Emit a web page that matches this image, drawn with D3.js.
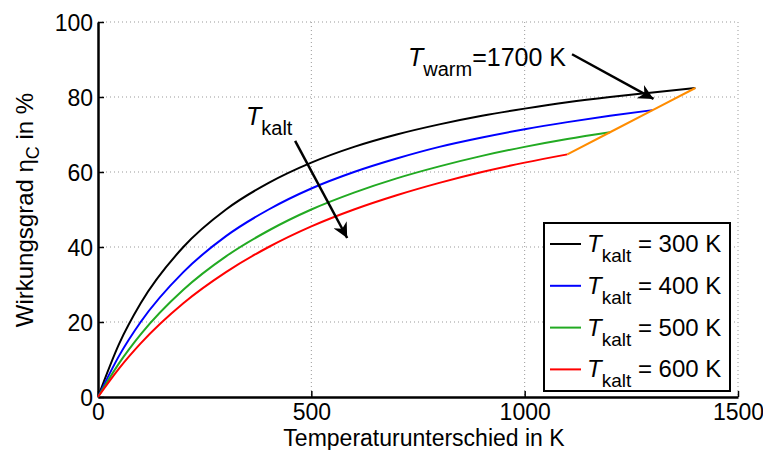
<!DOCTYPE html>
<html>
<head>
<meta charset="utf-8">
<script src="https://cdn.jsdelivr.net/npm/d3@7"></script>
<style>
  body { margin: 0; background: #fff; }
  svg { font-family: "Liberation Sans", Arial, sans-serif; }
</style>
</head>
<body>
<div id="chart"></div>
<script>
// values (Temperaturunterschied in K / Wirkungsgrad in %)
var dT = [0, 50, 100, 200, 300, 400, 500, 600, 700, 800, 900, 1000, 1100, 1200, 1300, 1400];
var eta300 = [0, 14.3, 25, 40, 50, 57.1, 62.5, 66.7, 70, 72.7, 75, 76.9, 78.6, 80, 81.2, 82.4];
var eta400 = [0, 11.1, 20, 33.3, 42.9, 50, 55.6, 60, 63.6, 66.7, 69.2, 71.4, 73.3, 75, 76.5];
var eta500 = [0, 9.1, 16.7, 28.6, 37.5, 44.4, 50, 54.5, 58.3, 61.5, 64.3, 66.7, 68.8, 70.6];
var eta600 = [0, 7.7, 14.3, 25, 33.3, 40, 45.5, 50, 53.8, 57.1, 60, 62.5, 64.7];
var warmX = [1100, 1200, 1300, 1400];
var warmY = [64.7, 70.6, 76.5, 82.4];
var kaltLabels = ["300 K", "400 K", "500 K", "600 K"];
var colors = ["#000000", "#0000ff", "#22aa22", "#ff0000"];
var xTicks = [0, 500, 1000, 1500];
var yTicks = [0, 20, 40, 60, 80, 100];

var svgWidth = 763, svgHeight = 450;
var margin = { top: 22, right: 25, bottom: 53, left: 98 };
var width = svgWidth - margin.left - margin.right;
var height = svgHeight - margin.top - margin.bottom;

var svg = d3.select("#chart").append("svg")
    .attr("width", svgWidth)
    .attr("height", svgHeight);

var chartGroup = svg.append("g")
    .attr("transform", `translate(${margin.left}, ${margin.top})`);

var x = d3.scaleLinear().domain([0, 1500]).range([0, width]);
var y = d3.scaleLinear().domain([0, 100]).range([height, 0]);

// grid
chartGroup.selectAll(".gx").data(xTicks.slice(1)).enter().append("line")
    .attr("x1", d => x(d)).attr("x2", d => x(d))
    .attr("y1", 0).attr("y2", height)
    .attr("stroke", "#999").attr("stroke-width", 1).attr("stroke-dasharray", "1,3");
chartGroup.selectAll(".gy").data(yTicks.slice(1)).enter().append("line")
    .attr("x1", 0).attr("x2", width)
    .attr("y1", d => y(d)).attr("y2", d => y(d))
    .attr("stroke", "#999").attr("stroke-width", 1).attr("stroke-dasharray", "1,3");

// axes
var bottomAxis = d3.axisBottom(x).tickValues(xTicks).tickFormat(d3.format("d"))
    .tickSizeInner(-6).tickSizeOuter(0).tickPadding(12);
var leftAxis = d3.axisLeft(y).tickValues(yTicks).tickFormat(d3.format("d"))
    .tickSizeInner(-6).tickSizeOuter(0).tickPadding(5);

var gx = chartGroup.append("g")
    .attr("transform", `translate(0, ${height})`)
    .call(bottomAxis);
var gy = chartGroup.append("g").call(leftAxis);

[gx, gy].forEach(function (g) {
    g.select(".domain").attr("stroke", "#000").attr("stroke-width", 2.5);
    g.selectAll(".tick line").attr("stroke", "#000").attr("stroke-width", 1.5);
    g.selectAll(".tick text").attr("font-size", 23).attr("fill", "#000")
        .attr("font-family", "Liberation Sans, Arial, sans-serif");
});
gx.selectAll(".tick text").attr("dy", "0.48em");
gy.selectAll(".tick text").attr("dy", "0.36em");

// curves
var series = [eta300, eta400, eta500, eta600];
var line = d3.line()
    .x(d => x(d[0]))
    .y(d => y(d[1]))
    .curve(d3.curveMonotoneX);

series.forEach(function (s, i) {
    var pts = s.map((v, j) => [dT[j], v]);
    chartGroup.append("path")
        .attr("d", line(pts))
        .attr("fill", "none")
        .attr("stroke", colors[i])
        .attr("stroke-width", 2);
});

chartGroup.append("path")
    .attr("d", d3.line().x(d => x(d[0])).y(d => y(d[1]))(warmX.map((v, j) => [v, warmY[j]])))
    .attr("fill", "none")
    .attr("stroke", "#ff8c00")
    .attr("stroke-width", 2);

// arrows
svg.append("defs").append("marker")
    .attr("id", "head")
    .attr("viewBox", "0 0 10 10")
    .attr("refX", 10).attr("refY", 5)
    .attr("markerWidth", 7).attr("markerHeight", 6)
    .attr("markerUnits", "strokeWidth")
    .attr("orient", "auto")
    .append("path").attr("d", "M0,0 L10,5 L0,10 L3,5 Z").attr("fill", "#000");

function arrow(x1, y1, x2, y2) {
    chartGroup.append("line")
        .attr("x1", x(x1)).attr("y1", y(y1))
        .attr("x2", x(x2)).attr("y2", y(y2))
        .attr("stroke", "#000").attr("stroke-width", 2.5)
        .attr("marker-end", "url(#head)");
}
arrow(1111, 91.4, 1302, 79.5);
arrow(462, 68.3, 584, 42.4);

// annotations
function tLabel(g, px, py, sub, rest, size, subSize) {
    var t = g.append("text").attr("x", px).attr("y", py)
        .attr("font-size", size).attr("fill", "#000");
    t.append("tspan").attr("font-style", "italic").text("T");
    t.append("tspan").attr("font-size", subSize).attr("dy", 10).text(sub);
    if (rest) t.append("tspan").attr("dy", -10).text(rest);
    return t;
}
tLabel(svg, 408, 66, "warm", "=1700 K", 25, 20);
tLabel(svg, 246, 125, "kalt", null, 25, 20);

// legend
var legend = svg.append("g");
legend.append("rect")
    .attr("x", 544).attr("y", 223).attr("width", 186).attr("height", 168)
    .attr("fill", "#fff").attr("stroke", "#000").attr("stroke-width", 2);
kaltLabels.forEach(function (lab, i) {
    var ly = 244 + i * 41.8;
    legend.append("line")
        .attr("x1", 550).attr("x2", 581).attr("y1", ly).attr("y2", ly)
        .attr("stroke", colors[i]).attr("stroke-width", 2);
    var t = legend.append("text").attr("x", 587).attr("y", ly + 8)
        .attr("font-size", 24).attr("fill", "#000");
    t.append("tspan").attr("font-style", "italic").text("T");
    t.append("tspan").attr("font-size", 19).attr("dy", 10).text("kalt");
    t.append("tspan").attr("dy", -10).text(" = " + lab);
});

// axis titles
svg.append("text")
    .attr("x", 424).attr("y", 446)
    .attr("text-anchor", "middle")
    .attr("font-size", 23)
    .text("Temperaturunterschied in K");

var yt = svg.append("text")
    .attr("transform", "translate(33, 210) rotate(-90)")
    .attr("text-anchor", "middle")
    .attr("font-size", 24);
yt.append("tspan").text("Wirkungsgrad  \u03b7");
yt.append("tspan").attr("font-size", 18).attr("dy", 6).text("C");
yt.append("tspan").attr("dy", -6).text(" in %");
</script>
</body>
</html>
